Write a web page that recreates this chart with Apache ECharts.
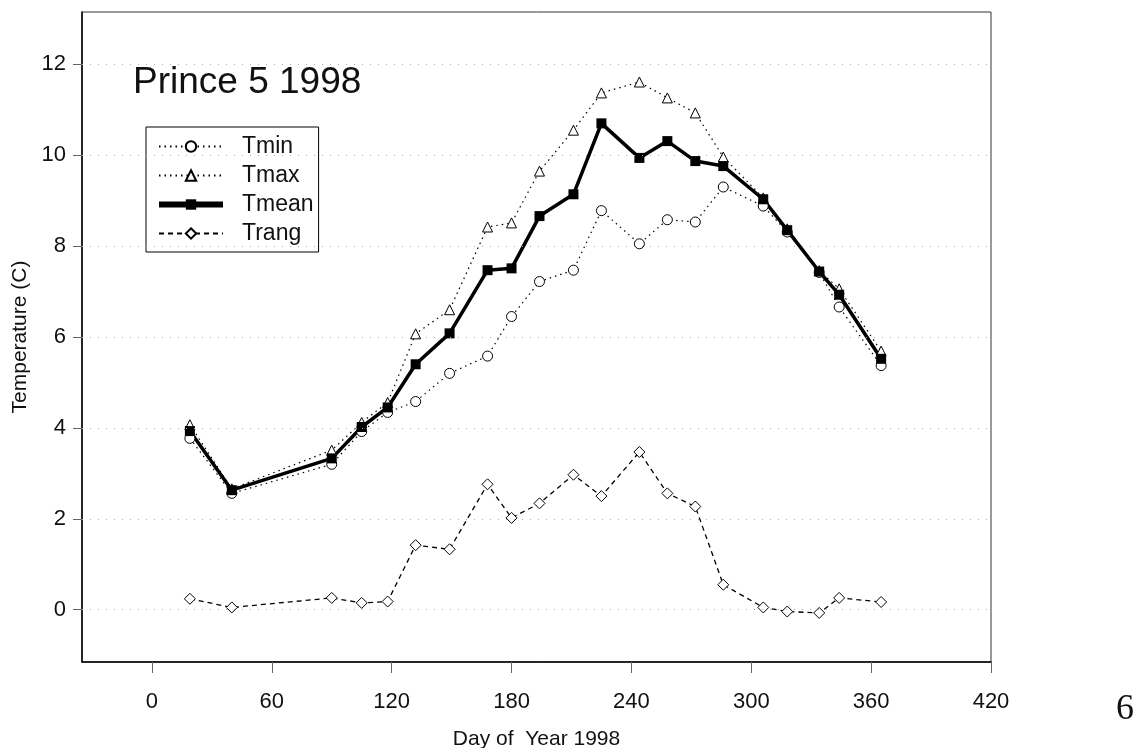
<!DOCTYPE html>
<html>
<head>
<meta charset="utf-8">
<title>Prince 5 1998</title>
<script src="https://cdn.jsdelivr.net/npm/echarts@6/dist/echarts.min.js"></script>
<style>
  html, body { margin: 0; padding: 0; background: #fff; }
  #chart { width: 1141px; height: 748px; }
</style>
</head>
<body>
<div id="chart"></div>
<script>
// Daily temperature summary, station Prince 5, 1998
const days  = [19, 40, 90, 105, 118, 132, 149, 168, 180, 194, 211, 225, 244, 258, 272, 286, 306, 318, 334, 344, 365];
const tmin  = [3.77, 2.56, 3.20, 3.92, 4.34, 4.58, 5.20, 5.58, 6.45, 7.22, 7.47, 8.78, 8.05, 8.58, 8.53, 9.30, 8.88, 8.31, 7.42, 6.66, 5.37];
const tmax  = [4.07, 2.66, 3.51, 4.12, 4.56, 6.07, 6.60, 8.42, 8.51, 9.65, 10.55, 11.37, 11.61, 11.26, 10.93, 9.96, 9.06, 8.38, 7.46, 7.06, 5.69];
const tmean = [3.93, 2.63, 3.33, 4.02, 4.45, 5.40, 6.08, 7.47, 7.51, 8.66, 9.14, 10.70, 9.94, 10.31, 9.87, 9.76, 9.03, 8.35, 7.44, 6.93, 5.52];
const trang = [0.24, 0.05, 0.26, 0.15, 0.18, 1.42, 1.33, 2.76, 2.02, 2.34, 2.97, 2.50, 3.47, 2.56, 2.27, 0.55, 0.05, -0.04, -0.07, 0.26, 0.17];

const xTicks = [0, 60, 120, 180, 240, 300, 360, 420];
const yTicks = [0, 2, 4, 6, 8, 10, 12];

const seriesNames = ['Tmin', 'Tmax', 'Tmean', 'Trang'];
const titleText = 'Prince 5 1998';
const xName = 'Day of  Year 1998';
const yName = 'Temperature (C)';
const pageNumber = '6';

const FONT = '"Liberation Sans", Arial, sans-serif';

function pairs(vals) {
  return days.map((d, i) => [d, vals[i]]);
}

const chart = echarts.init(document.getElementById('chart'), null, { renderer: 'canvas' });

const hollow = { color: '#fff', borderColor: '#000', borderWidth: 1 };

chart.setOption({
  animation: false,
  backgroundColor: '#fff',
  grid: {
    left: 82, right: 150, top: 12, bottom: 86,
    containLabel: false,
    outerBoundsMode: 'none',
    show: true, borderColor: '#333', borderWidth: 1
  },
  xAxis: {
    type: 'value',
    min: -35, max: 420,
    name: xName,
    nameLocation: 'middle',
    nameGap: 67,
    nameTextStyle: { fontFamily: FONT, fontSize: 21, color: '#111' },
    axisLine: { show: true, onZero: false, lineStyle: { color: '#000', width: 1.5 } },
    axisTick: { show: true, length: 11, customValues: xTicks, lineStyle: { color: '#666', width: 1 } },
    axisLabel: { customValues: xTicks, margin: 29, fontFamily: FONT, fontSize: 22, color: '#111' },
    splitLine: { show: false }
  },
  yAxis: {
    type: 'value',
    min: -1.15, max: 13.15,
    name: yName,
    nameLocation: 'middle',
    nameGap: 48,
    nameTextStyle: { fontFamily: FONT, fontSize: 21, color: '#111' },
    axisLine: { show: true, onZero: false, lineStyle: { color: '#000', width: 1.5 } },
    axisTick: { show: true, length: 9, customValues: yTicks, lineStyle: { color: '#666', width: 1 } },
    axisLabel: { customValues: yTicks, margin: 16, fontFamily: FONT, fontSize: 22, color: '#111' },
    splitLine: { show: false }
  },
  legend: {
    data: seriesNames.map(n => n === 'Tmean'
      ? { name: n, lineStyle: { width: 6 } }
      : { name: n }),
    orient: 'vertical',
    left: 146, top: 127,
    padding: [8, 5, 7, 10],
    itemWidth: 64, itemHeight: 13, itemGap: 6,
    borderColor: '#000', borderWidth: 1,
    backgroundColor: '#fff',
    textStyle: { fontFamily: FONT, fontSize: 23, color: '#111', padding: [0, 0, 0, 14] }
  },
  graphic: [
    {
      type: 'text', left: 133, top: 64,
      style: { text: titleText, font: '37px ' + FONT, fill: '#111' }
    },
    {
      type: 'text', left: 1116, top: 692,
      style: { text: pageNumber, font: '36px "Liberation Serif", "DejaVu Serif", serif', fill: '#111' }
    }
  ],
  series: [
    {
      name: 'grid',
      type: 'line',
      data: [],
      silent: true,
      markLine: {
        silent: true,
        symbol: 'none',
        label: { show: false },
        lineStyle: { color: '#aaa', width: 1, type: [1, 7] },
        data: yTicks.map(v => ({ yAxis: v }))
      }
    },
    {
      name: 'Tmin', type: 'line', data: pairs(tmin),
      symbol: 'circle', symbolSize: 10, showAllSymbol: true,
      lineStyle: { color: '#000', width: 1.2, type: [1.5, 4] },
      itemStyle: hollow
    },
    {
      name: 'Tmax', type: 'line', data: pairs(tmax),
      symbol: 'triangle', symbolSize: 10, showAllSymbol: true,
      lineStyle: { color: '#000', width: 1.2, type: [1.5, 4] },
      itemStyle: hollow
    },
    {
      name: 'Trang', type: 'line', data: pairs(trang),
      symbol: 'diamond', symbolSize: 11, showAllSymbol: true,
      lineStyle: { color: '#000', width: 1.3, type: [5, 4] },
      itemStyle: hollow
    },
    {
      name: 'Tmean', type: 'line', data: pairs(tmean),
      symbol: 'rect', symbolSize: 10, showAllSymbol: true,
      lineStyle: { color: '#000', width: 3.5 },
      itemStyle: { color: '#000', borderColor: '#000', borderWidth: 0 }
    }
  ]
});
</script>
</body>
</html>
